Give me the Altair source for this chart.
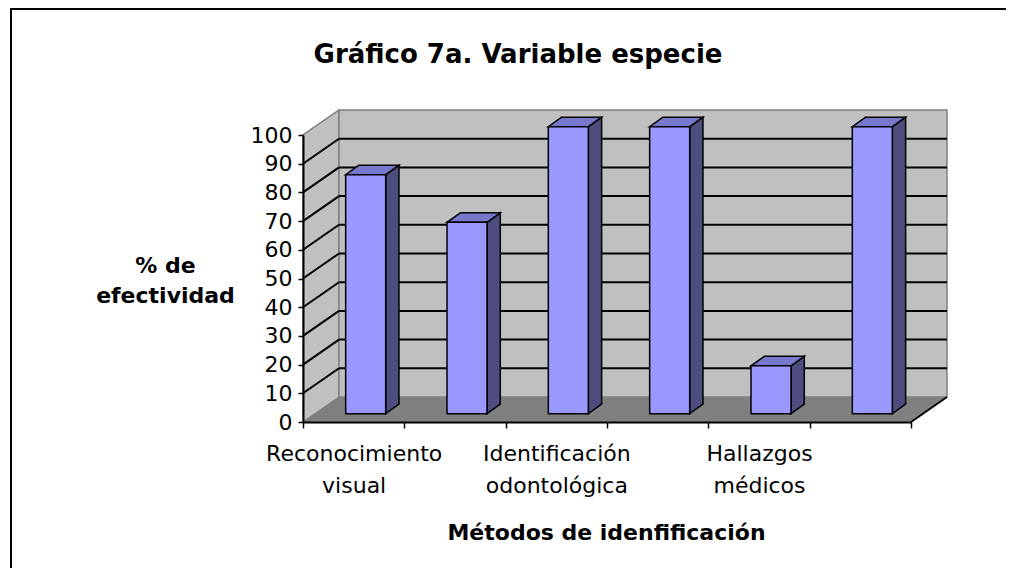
import altair as alt
import pandas as pd

# ---------------- data ----------------
# Excel only printed every other category name (1st, 3rd, 5th); the others are hidden there too.
categorias = ["Reconocimiento visual", "Método 2", "Identificación odontológica",
              "Método 4", "Hallazgos médicos", "Método 6"]
efectividad = [83.3, 66.7, 100, 100, 16.7, 100]
marcas_y = [0, 10, 20, 30, 40, 50, 60, 70, 80, 90, 100]
etiquetas_visibles = [0, 2, 4]

titulo = "Gráfico 7a. Variable especie"
titulo_y = ["% de", "efectividad"]
titulo_x = "Métodos de idenfificación"

# ---------------- layout / 3D styling ----------------
W, H = 608, 287
N = len(categorias)
YMAX = 100
ux = W / N           # px per category unit
uy = H / YMAX        # px per percent

DEPTH_X, DEPTH_Y = 36, 25          # full depth of the 3D box (px)
ddx, ddy = DEPTH_X / ux, DEPTH_Y / uy
BAR_HALF = 20 / ux                  # half width of bar front face
bar_fx, bar_fy = 12 / ux, 8.3 / uy  # position of bar front face inside depth
bar_dx, bar_dy = 13.3 / ux, 9.5 / uy  # bar thickness

FONT = "DejaVu Sans"
PAD = {"left": 295, "top": 127, "right": 97, "bottom": 147}

xs = alt.Scale(domain=[0, N], nice=False, zero=False)
ys = alt.Scale(domain=[0, YMAX], nice=False, zero=False)

# ---------------- axis label expression ----------------
parts = []
for i in etiquetas_visibles:
    words = categorias[i].split(" ")
    arr = "[" + ",".join("'" + w + "'" for w in words) + "]"
    parts.append(f"datum.value === {i + 0.5} ? {arr} : ")
label_expr = "".join(parts) + "''"

ax_x = alt.Axis(
    values=[k / 2 for k in range(2 * N + 1)],
    labelExpr=label_expr,
    tickOpacity={"condition": {"test": "datum.value % 1 === 0", "value": 1}, "value": 0},
    tickSize=6, tickWidth=1.5, tickColor="black",
    domainColor="black", domainWidth=2,
    labelFont=FONT, labelFontSize=22, labelColor="black",
    labelPadding=15, labelLineHeight=32, labelBaseline="top",
    labelOverlap=False, labelFlush=False, labelBound=False,
    grid=False, zindex=1,
    title=titulo_x, titleFont=FONT, titleFontSize=22, titleFontWeight="bold",
    titleColor="black", titleX=303, titleY=117, titleAlign="center",
    titleBaseline="alphabetic", titleAnchor="middle",
)
ax_y = alt.Axis(
    values=marcas_y,
    tickSize=5, tickWidth=1.5, tickColor="black",
    domainColor="black", domainWidth=2,
    labelFont=FONT, labelFontSize=22, labelColor="black", labelPadding=6,
    labelOverlap=False, labelFlush=False, labelBound=False,
    grid=False, zindex=1,
    title=titulo_y, titleFont=FONT, titleFontSize=22, titleFontWeight="bold",
    titleColor="black", titleAngle=0, titleX=-138, titleY=137,
    titleAlign="center", titleBaseline="alphabetic", titleLineHeight=30,
)


def X(f, **kw):
    return alt.X(f, type="quantitative", scale=xs, axis=ax_x, title=titulo_x, **kw)


def Y(f, **kw):
    return alt.Y(f, type="quantitative", scale=ys, axis=ax_y, title=titulo_y, **kw)


# ---------------- tables ----------------
front_rows, side_rows, top_rows = [], [], []
for i, (c, v) in enumerate(zip(categorias, efectividad)):
    cx = i + 0.5
    xl = cx - BAR_HALF + bar_fx
    xr = cx + BAR_HALF + bar_fx
    yb = bar_fy
    yt = v + bar_fy
    front_rows.append(dict(cat=c, val=v, xl=xl, xr=xr, yb=yb, yt=yt))
    side_rows.append(dict(cat=c, x=xr, y=yb, y2=yt))
    side_rows.append(dict(cat=c, x=xr + bar_dx, y=yb + bar_dy, y2=yt + bar_dy))
    top_rows.append(dict(cat=c, y=yt, x=xl, x2=xr))
    top_rows.append(dict(cat=c, y=yt + bar_dy, x=xl + bar_dx, x2=xr + bar_dx))
front_df = pd.DataFrame(front_rows)
side_df = pd.DataFrame(side_rows)
top_df = pd.DataFrame(top_rows)

floor_df = pd.DataFrame([dict(y=0, x=0, x2=N), dict(y=ddy, x=ddx, x2=N + ddx)])
lwall_df = pd.DataFrame([dict(x=0, y=0, y2=YMAX), dict(x=ddx, y=ddy, y2=YMAX + ddy)])
bwall_df = pd.DataFrame([dict(x=ddx, x2=N + ddx, y=ddy, y2=YMAX + ddy)])
grid_vals = [m for m in marcas_y if 0 < m < YMAX]
bgrid_df = pd.DataFrame([dict(x=ddx, x2=N + ddx, y=m + ddy) for m in grid_vals])
sgrid_df = pd.DataFrame([dict(x=0, y=m, x2=ddx, y2=m + ddy) for m in grid_vals])
redge_df = pd.DataFrame([dict(x=N, y=0, x2=N + ddx, y2=ddy)])
frame_df = pd.DataFrame([dict(k=1)])

# ---------------- layers ----------------
# chart frame (only its top and left edges fall inside the picture)
frame_top = alt.Chart(frame_df).mark_rule(color="black", strokeWidth=2).encode(
    x=alt.value(-293), x2=alt.value(W + PAD["right"] - 2), y=alt.value(-126)
)
frame_left = alt.Chart(frame_df).mark_rule(color="black", strokeWidth=2).encode(
    x=alt.value(-292), y=alt.value(-127), y2=alt.value(H + PAD["bottom"] - 1)
)
floor = alt.Chart(floor_df).mark_area(orient="horizontal", color="#808080",
                                      stroke="#808080", strokeWidth=1).encode(
    y=Y("y"), x=X("x"), x2="x2"
)
lwall = alt.Chart(lwall_df).mark_area(color="#c0c0c0", stroke="#808080", strokeWidth=1.5).encode(
    x=X("x"), y=Y("y"), y2="y2"
)
bwall = alt.Chart(bwall_df).mark_rect(color="#c0c0c0", stroke="#808080", strokeWidth=1.5).encode(
    x=X("x"), x2="x2", y=Y("y"), y2="y2"
)
bgrid = alt.Chart(bgrid_df).mark_rule(color="black", strokeWidth=2).encode(
    x=X("x"), x2="x2", y=Y("y")
)
sgrid = alt.Chart(sgrid_df).mark_rule(color="black", strokeWidth=2).encode(
    x=X("x"), x2="x2", y=Y("y"), y2="y2"
)
redge = alt.Chart(redge_df).mark_rule(color="black", strokeWidth=2).encode(
    x=X("x"), x2="x2", y=Y("y"), y2="y2"
)
side = alt.Chart(side_df).mark_area(color="#4d4d80", stroke="black", strokeWidth=1.5).encode(
    x=X("x"), y=Y("y"), y2="y2", detail="cat:N"
)
top = alt.Chart(top_df).mark_area(orient="horizontal", color="#7777cc", stroke="black",
                                  strokeWidth=1.5).encode(
    y=Y("y"), x=X("x"), x2="x2", detail="cat:N"
)
front = alt.Chart(front_df).mark_rect(color="#9999ff", stroke="black", strokeWidth=1.5).encode(
    x=X("xl"), x2="xr",
    y=Y("yb"), y2="yt",
    tooltip=["cat:N", "val:Q"],
)

chart = alt.layer(
    frame_top, frame_left, floor, lwall, bwall, bgrid, sgrid, redge, side, top, front
).properties(
    width=W, height=H,
    autosize=alt.AutoSizeParams(type="none"),
    padding=PAD,
    title=alt.TitleParams(
        text=titulo, font=FONT, fontSize=26, fontWeight="bold", color="black",
        anchor="middle", frame="group", baseline="alphabetic", offset=0, dx=-89, dy=82,
    ),
).configure_view(stroke=None).configure_axis(grid=False).configure(font=FONT, background="white")

chart.save("out.html", embed_options={"renderer": "svg", "actions": False})
